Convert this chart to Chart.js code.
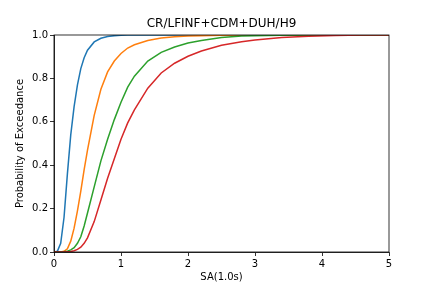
<!DOCTYPE html>
<html>
<head>
<meta charset="utf-8">
<script src="https://cdn.jsdelivr.net/npm/chart.js@4/dist/chart.umd.min.js"></script>
<style>
  html, body { margin: 0; padding: 0; background: #fff; }
  #wrap { width: 432px; height: 288px; }
</style>
</head>
<body>
<div id="wrap"><canvas id="cdf" width="432" height="288"></canvas></div>
<script>
// SA(1.0s) grid and exceedance curves
const saValues = [0, 0.05, 0.1, 0.15, 0.2, 0.25, 0.3, 0.35, 0.4, 0.45, 0.5, 0.6, 0.7, 0.8, 0.9, 1.0,
  1.1, 1.2, 1.4, 1.6, 1.8, 2.0, 2.2, 2.5, 2.8, 3.0, 3.4, 3.8, 4.2, 4.6, 5.0];
const blueCurve = [0, 0.003, 0.04, 0.16, 0.36, 0.54, 0.67, 0.77, 0.845, 0.895, 0.93, 0.968, 0.985, 0.993, 0.997, 0.999,
  1, 1, 1, 1, 1, 1, 1, 1, 1, 1, 1, 1, 1, 1, 1];
const orangeCurve = [0, 0, 0, 0.003, 0.015, 0.05, 0.11, 0.19, 0.28, 0.38, 0.47, 0.63, 0.75, 0.83, 0.88, 0.915,
  0.94, 0.955, 0.975, 0.986, 0.992, 0.995, 0.997, 0.999, 1, 1, 1, 1, 1, 1, 1];
const greenCurve = [0, 0, 0, 0.001, 0.004, 0.01, 0.02, 0.04, 0.07, 0.12, 0.18, 0.3, 0.42, 0.52, 0.61, 0.69,
  0.76, 0.81, 0.88, 0.92, 0.945, 0.963, 0.975, 0.989, 0.995, 0.997, 0.999, 1, 1, 1, 1];
const redCurve = [0, 0, 0, 0, 0.001, 0.002, 0.006, 0.012, 0.022, 0.04, 0.065, 0.14, 0.24, 0.34, 0.43, 0.52,
  0.595, 0.655, 0.755, 0.825, 0.87, 0.902, 0.926, 0.953, 0.969, 0.977, 0.988, 0.994, 0.998, 1, 1];
const xTicks = [0, 1, 2, 3, 4, 5];
const yTicks = [0, 0.2, 0.4, 0.6, 0.8, 1.0];

const curves = [
  { vals: blueCurve, color: '#1f77b4' },
  { vals: orangeCurve, color: '#ff7f0e' },
  { vals: greenCurve, color: '#2ca02c' },
  { vals: redCurve, color: '#d62728' },
];

const font = "'DejaVu Sans', sans-serif";

// frame and title drawn after the lines, like matplotlib spines
const framePlugin = {
  id: 'frame',
  afterDatasetsDraw(chart) {
    const { ctx, chartArea: a } = chart;
    ctx.save();
    ctx.strokeStyle = '#000';
    ctx.lineWidth = 0.8;
    ctx.strokeRect(a.left, a.top, a.right - a.left, a.bottom - a.top);
    ctx.restore();
  },
  afterDraw(chart) {
    const { ctx, chartArea: a } = chart;
    ctx.save();
    ctx.fillStyle = '#000';
    ctx.font = '12px ' + font;
    ctx.textAlign = 'center';
    ctx.textBaseline = 'bottom';
    ctx.fillText('CR/LFINF+CDM+DUH/H9', (a.left + a.right) / 2, a.top - 5);
    ctx.restore();
  }
};

new Chart(document.getElementById('cdf'), {
  type: 'line',
  data: {
    datasets: curves.map((c, i) => ({
      data: saValues.map((x, j) => ({ x, y: c.vals[j] })),
      borderColor: c.color,
      borderWidth: 1.5,
      pointRadius: 0,
      tension: 0,
      fill: false,
      order: curves.length - i,
    }))
  },
  options: {
    responsive: false,
    animation: false,
    devicePixelRatio: 1,
    layout: { padding: { top: 35, right: 43, bottom: 0, left: 0 } },
    plugins: { legend: { display: false }, tooltip: { enabled: false } },
    scales: {
      x: {
        type: 'linear',
        min: 0, max: 5,
        afterFit: s => { s.height = 36; },
        afterBuildTicks: s => { s.ticks = xTicks.map(v => ({ value: v })); },
        grid: { drawOnChartArea: false, drawTicks: true, tickLength: 4, color: '#000', lineWidth: 0.8 },
        border: { display: true, color: '#000', width: 0.8 },
        ticks: { color: '#000', font: { family: font, size: 10 }, padding: 2, maxRotation: 0,
                 callback: v => String(v) },
        title: { display: true, text: 'SA(1.0s)', color: '#000', font: { family: font, size: 10 }, padding: { top: 2, bottom: 5 } }
      },
      y: {
        type: 'linear',
        min: 0, max: 1,
        afterFit: s => { s.width = 54; },
        afterBuildTicks: s => { s.ticks = yTicks.map(v => ({ value: v })); },
        grid: { drawOnChartArea: false, drawTicks: true, tickLength: 4, color: '#000', lineWidth: 0.8 },
        border: { display: true, color: '#000', width: 0.8 },
        ticks: { color: '#000', font: { family: font, size: 10 }, padding: 2,
                 callback: v => v.toFixed(1) },
        title: { display: true, text: 'Probability of Exceedance', color: '#000', font: { family: font, size: 10 }, padding: { top: 14, bottom: 0 } }
      }
    }
  },
  plugins: [framePlugin]
});
</script>
</body>
</html>
